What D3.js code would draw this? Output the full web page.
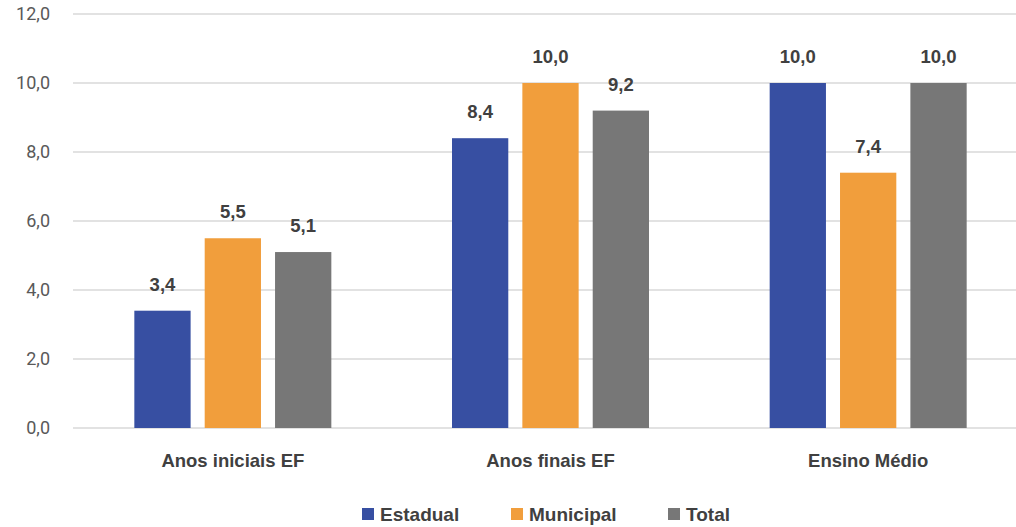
<!DOCTYPE html>
<html><head><meta charset="utf-8">
<script src="https://cdn.jsdelivr.net/npm/d3@7"></script>
<style>body{margin:0;background:#fff}</style>
</head><body>
<svg id="chart" width="1016" height="527"></svg>
<script>
const categories = ["Anos iniciais EF", "Anos finais EF", "Ensino Médio"];
const seriesNames = ["Estadual", "Municipal", "Total"];
const estadual = [3.4, 8.4, 10.0];
const municipal = [5.5, 10.0, 7.4];
const total = [5.1, 9.2, 10.0];
const yTicks = [0, 2, 4, 6, 8, 10, 12];
const colors = ["#374FA2", "#F19E3C", "#777777"];

const seriesValues = [estadual, municipal, total];
const svg = d3.select("#chart");
const fmt = v => d3.format(".1f")(v).replace(".", ",");
const boldFont = "'Liberation Sans', Arial, sans-serif";

const x = d3.scaleBand().domain(categories).range([74, 1027]).padding(0);
const xs = d3.scaleBand().domain(seriesNames).range([0, 197]).paddingInner(0.2);
const y = d3.scaleLinear().domain([0, 12]).range([428, 14]);

// gridlines
svg.append("g").selectAll("line").data(yTicks).join("line")
  .attr("x1", 73).attr("x2", 1016)
  .attr("y1", d => y(d)).attr("y2", d => y(d))
  .attr("stroke", "#D9D9D9").attr("stroke-width", 1.3);

// y axis labels
svg.append("g").selectAll("text").data(yTicks).join("text")
  .attr("x", 50).attr("y", d => y(d)).attr("dy", "0.36em")
  .attr("text-anchor", "end")
  .style("font-family", "Roboto, sans-serif").style("font-size", "18px").attr("fill", "#595959")
  .text(fmt);

// bars
const data = [];
categories.forEach((c, i) => seriesNames.forEach((s, j) => data.push({c, s, j, v: seriesValues[j][i]})));
const groupOffset = (x.bandwidth() - 197) / 2;
svg.append("g").selectAll("rect").data(data).join("rect")
  .attr("x", d => x(d.c) + groupOffset + xs(d.s))
  .attr("width", xs.bandwidth())
  .attr("y", d => y(d.v))
  .attr("height", d => y(0) - y(d.v))
  .attr("fill", d => colors[d.j]);

// value labels
svg.append("g").selectAll("text").data(data).join("text")
  .attr("x", d => x(d.c) + groupOffset + xs(d.s) + xs.bandwidth() / 2)
  .attr("y", d => y(d.v) - 20)
  .attr("text-anchor", "middle")
  .style("font-family", boldFont).style("font-weight", "bold")
  .style("font-size", "18.5px").attr("fill", "#404040")
  .text(d => fmt(d.v));

// x axis labels
const xAxis = d3.axisBottom(x).tickSize(0).tickPadding(0);
const gx = svg.append("g").attr("transform", "translate(0,454)").call(xAxis);
gx.attr("font-size", null).attr("font-family", null);
gx.select(".domain").remove();
gx.selectAll("text").style("font-family", boldFont).style("font-weight", "bold")
  .style("font-size", "18.5px").attr("fill", "#404040").attr("dy", "0.72em");

// legend
const legendX = [362, 511, 668];
const lg = svg.append("g").selectAll("g").data(seriesNames).join("g")
  .attr("transform", (d, i) => `translate(${legendX[i]},508)`);
lg.append("rect").attr("width", 12).attr("height", 12).attr("fill", (d, i) => colors[i]);
lg.append("text").attr("x", 18).attr("y", 6).attr("dy", "0.36em")
  .style("font-family", boldFont).style("font-weight", "bold")
  .style("font-size", "19px").attr("fill", "#404040").text(d => d);
</script>
</body></html>
